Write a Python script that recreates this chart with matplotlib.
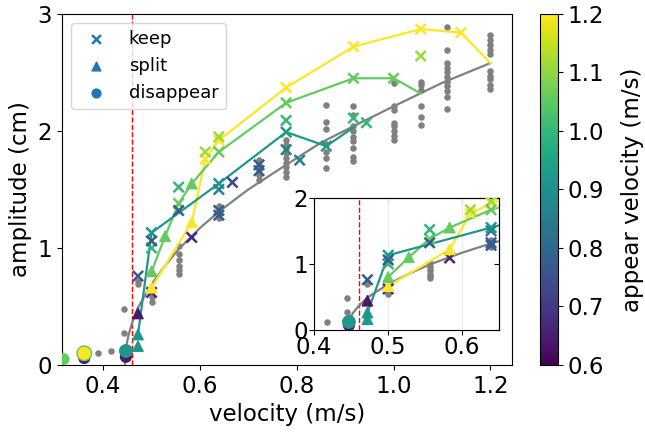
import matplotlib
matplotlib.use("Agg")
import matplotlib.pyplot as plt
from matplotlib.colors import Normalize

# ---- measured amplitudes at each driving velocity (gray dots) ----
gray_velocity = [0.389, 0.417, 0.444, 0.472, 0.500, 0.556, 0.639, 0.722,
                 0.778, 0.861, 0.917, 1.000, 1.056, 1.111, 1.200]
gray_amplitude = [
    [0.10],
    [0.12],
    [0.48, 0.27],
    [0.72, 0.69],
    [0.63, 0.58, 0.54],
    [1.02, 0.95, 0.90, 0.85, 0.81, 0.78],
    [1.36, 1.32, 1.29, 1.26],
    [1.75, 1.71, 1.67, 1.62, 1.58],
    [1.92, 1.88, 1.85, 1.81, 1.77, 1.73, 1.69, 1.65, 1.61],
    [2.22, 2.08, 2.02, 1.89, 1.82, 1.77, 1.68],
    [2.21, 2.14, 2.04, 2.00, 1.95, 1.91, 1.85, 1.78, 1.74],
    [2.41, 2.21, 2.18, 2.07, 2.04, 2.00, 1.96, 1.92],
    [2.42, 2.39, 2.35, 2.21, 2.12, 2.05],
    [2.89, 2.69, 2.58, 2.54, 2.50, 2.46, 2.42, 2.38, 2.34, 2.29, 2.19],
    [2.82, 2.78, 2.73, 2.69, 2.66, 2.51, 2.47, 2.44, 2.39, 2.36],
]

# ---- mean amplitude curve ----
curve_velocity = [0.445, 0.448, 0.452, 0.460, 0.472, 0.490, 0.500, 0.530, 0.556,
                  0.600, 0.639, 0.700, 0.778, 0.850, 0.917, 1.000, 1.100, 1.200]
curve_amplitude = [0.00, 0.16, 0.25, 0.36, 0.49, 0.62, 0.69, 0.86, 0.99,
                   1.17, 1.31, 1.50, 1.71, 1.90, 2.04, 2.21, 2.41, 2.58]

# ---- tracked waves, followed from the appear velocity downwards ----
track_appear = [1.200, 1.056, 0.917]
track_velocity = [
    [1.200, 1.139, 1.056, 0.917, 0.778, 0.639, 0.611, 0.583, 0.500],
    [1.056, 1.000, 0.917, 0.778, 0.639, 0.583, 0.556, 0.528, 0.500],
    [0.917, 0.861, 0.778, 0.639, 0.500, 0.472],
]
track_amplitude = [
    [2.58, 2.84, 2.87, 2.72, 2.37, 1.92, 1.76, 1.22, 0.66],
    [2.32, 2.45, 2.45, 2.24, 1.82, 1.55, 1.38, 1.10, 0.80],
    [2.03, 1.87, 1.99, 1.55, 1.13, 0.26],
]

# ---- wave fate: keep ----
keep_velocity = [1.139, 1.056, 0.917, 0.778, 0.639, 0.611,
                 1.056, 0.639, 0.611,
                 1.000, 0.917, 0.778, 0.639, 0.556,
                 0.944, 0.917, 0.778, 0.556, 0.500,
                 0.861, 0.778, 0.639, 0.500,
                 0.778, 0.806, 0.639,
                 0.722, 0.722, 0.639, 0.639, 0.556, 0.472, 0.500,
                 0.667,
                 0.583, 0.500]
keep_amplitude = [2.84, 2.87, 2.72, 2.37, 1.92, 1.76,
                  2.64, 1.95, 1.82,
                  2.45, 2.45, 2.24, 1.82, 1.38,
                  2.07, 2.11, 2.09, 1.52, 1.00,
                  1.87, 1.99, 1.55, 1.13,
                  1.84, 1.75, 1.50,
                  1.71, 1.66, 1.32, 1.28, 1.32, 0.76, 1.06,
                  1.56,
                  1.09, 0.62]
keep_appear = [1.200] * 6 + [1.111] * 3 + [1.056] * 5 + [1.000] * 5 + \
              [0.917] * 4 + [0.861] * 3 + [0.778] * 7 + [0.722] + [0.667] * 2

# ---- wave fate: split ----
split_velocity = [0.583, 0.500, 0.583, 0.528, 0.500, 0.472, 0.472, 0.472]
split_amplitude = [1.22, 0.66, 1.55, 1.10, 0.80, 0.26, 0.16, 0.44]
split_appear = [1.200, 1.200, 1.056, 1.056, 1.056, 0.917, 0.917, 0.640]

# ---- wave fate: disappear ----
gone_velocity = [0.318, 0.361, 0.361, 0.361, 0.447, 0.447]
gone_amplitude = [0.05, 0.06, 0.10, 0.10, 0.07, 0.12]
gone_appear = [1.056, 0.640, 1.056, 1.200, 0.640, 0.917]
gone_size = [60, 60, 110, 70, 60, 80]

critical_velocity = 0.46

cmap = plt.get_cmap("viridis")
norm = Normalize(vmin=0.6, vmax=1.2)

plt.rcParams["font.size"] = 16.5

fig = plt.figure(figsize=(6.45, 4.34), dpi=100)
ax = fig.add_axes([0.0961, 0.159, 0.698, 0.809])
cax = fig.add_axes([0.837, 0.159, 0.028, 0.809])
ins = fig.add_axes([0.487, 0.240, 0.287, 0.304])


def draw(a, legend=False):
    gx, gy = [], []
    for v, amps in zip(gray_velocity, gray_amplitude):
        gx += [v] * len(amps)
        gy += amps
    a.scatter(gx, gy, s=22, color="gray", zorder=2, linewidths=0)
    a.plot(curve_velocity, curve_amplitude, color="gray", lw=1.6, zorder=3)
    for app, tv, ta in zip(track_appear, track_velocity, track_amplitude):
        a.plot(tv, ta, color=cmap(norm(app)), lw=1.6, zorder=3)
    a.axvline(critical_velocity, color="red", ls="--", lw=1.0, zorder=1)
    sc = a.scatter(keep_velocity, keep_amplitude, c=keep_appear, cmap=cmap,
                   norm=norm, marker="x", s=55, linewidths=1.8, zorder=4)
    a.scatter(split_velocity, split_amplitude, c=split_appear, cmap=cmap,
              norm=norm, marker="^", s=55, zorder=4)
    a.scatter(gone_velocity, gone_amplitude, c=gone_appear, cmap=cmap,
              norm=norm, marker="o", s=gone_size, zorder=4)
    if legend:
        h1 = a.scatter([], [], marker="x", color="C0", s=40, linewidths=1.8)
        h2 = a.scatter([], [], marker="^", color="C0", s=40)
        h3 = a.scatter([], [], marker="o", color="C0", s=40)
        a.legend([h1, h2, h3], ["keep", "split", "disappear"], loc="upper left",
                 fontsize=13, scatterpoints=1)
    return sc


sc = draw(ax, legend=True)
ax.set_xlim(0.315, 1.245)
ax.set_ylim(0, 3)
ax.set_xticks([0.4, 0.6, 0.8, 1.0, 1.2])
ax.set_yticks([0, 1, 2, 3])
ax.set_xlabel("velocity (m/s)")
ax.set_ylabel("amplitude (cm)")

draw(ins)
ins.set_xlim(0.4, 0.65)
ins.set_ylim(0, 2)
ins.set_xticks([0.4, 0.5, 0.6])
ins.set_yticks([0, 1, 2])
ins.grid(axis="x", color="#ececec", lw=1.0, zorder=0)
ins.set_axisbelow(True)
ins.tick_params(labelsize=16.5, pad=1)
top = ins.secondary_xaxis("top")
top.set_xticks([0.4, 0.5, 0.6])
top.tick_params(direction="in", labeltop=False)
right = ins.secondary_yaxis("right")
right.set_yticks([0, 1, 2])
right.tick_params(direction="in", labelright=False)

cb = fig.colorbar(sc, cax=cax)
cb.set_ticks([0.6, 0.7, 0.8, 0.9, 1.0, 1.1, 1.2])
cb.set_label("appear velocity (m/s)", labelpad=12)

fig.savefig("out.png", dpi=100)
